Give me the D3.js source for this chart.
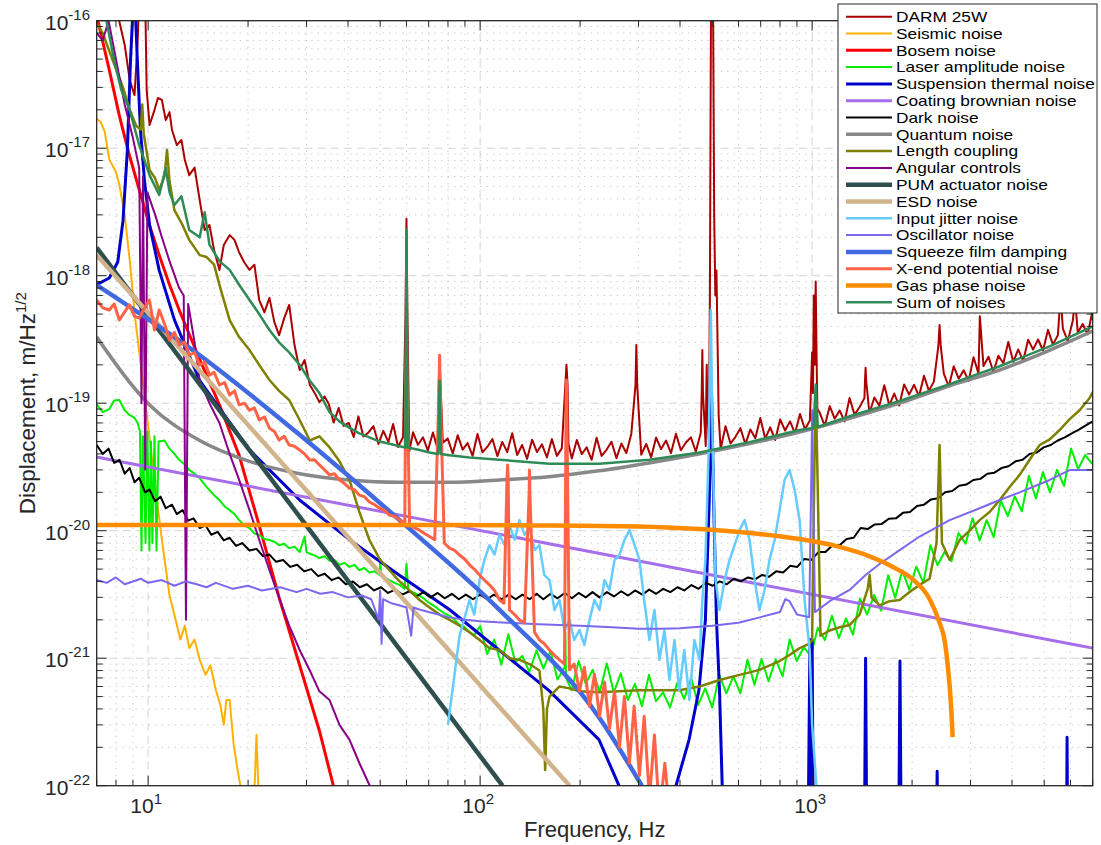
<!DOCTYPE html>
<html><head><meta charset="utf-8">
<script src="https://cdn.jsdelivr.net/npm/d3@7"></script>
<style>body{margin:0;background:#fff}svg{display:block}text{font-family:"Liberation Sans",Arial,Helvetica,sans-serif}</style>
</head><body><svg id="c" width="1101" height="845"></svg>
<script>
// All amplitude values below are in units of 1e-21 m/Hz^1/2 ; frequencies in Hz
const U = 1e-21;
const xDomain = [7, 7000];
const yDomain = [1e-22, 1e-16];
const xMajor = [10, 100, 1000];
const yMajor = [1e-22, 1e-21, 1e-20, 1e-19, 1e-18, 1e-17, 1e-16];
const xTickLabels = [["10","1"],["10","2"],["10","3"]];
const yTickLabels = [["10","-22"],["10","-21"],["10","-20"],["10","-19"],["10","-18"],["10","-17"],["10","-16"]];

const darm = [[8.05,120000],[8.5,64500],[8.8,34300],[9.1,26100],[9.3,70600],[9.4,150000],[9.8,150000],[9.9,28600],[10.1,15200],[10.45,19900],[10.7,24800],[11,23900],[11.3,16600],[11.6,19200],[11.8,13900],[12.2,10600],[12.6,11600],[12.9,8080],[13.3,6150],[13.8,7040],[14.3,3920],[14.8,2280],[15.3,2500],[15.8,1590],[16.4,1110],[16.9,1740],[17.6,2080],[18.2,1910],[18.8,1520],[19.5,1270],[20.2,1110],[20.9,1220],[21.6,645],[22.4,515],[23.2,670],[24,432],[24.8,342],[25.7,465],[26.6,590],[27.6,286],[28.6,182],[29.6,218],[30.7,139],[31.7,121],[32.8,102],[34,113],
[35,98.6],[36.2,70.5],[37.5,91.7],[38.8,66.3],[40.2,70],[41.6,54.3],[43,78.6],[44.5,54.8],[46.1,59],[47.7,66.2],[49.4,47.9],[51.1,60.7],[52.9,49.7],[54.7,68.6],[56.6,45.4],[58.6,54.3],[59.6,500],[60,2800],[60.4,500],[61.2,41.9],[62.8,59.1],[65,47.2],[67.3,54.1],[69.6,42.5],[72.1,59],[74.6,43.2],[75.1,150],[75.5,230],[75.9,150],[77.2,48.9],[79.9,52.8],[82.7,40.3],[85.6,56],[88.6,43.2],[91.7,48.6],[94.9,38.7],[98.2,57.4],[101.6,41.2],[105.2,45.6],[108.9,52.3],[112.7,38.5],[116.6,49.7],[120.7,41.4],[124.9,58.2],[129.3,39.2],[133.8,47],[138.5,36.6],[143.4,51.7],[148.4,41.4],[153.6,47.6],[158.9,37.5],[164.5,52.3],[170.3,38.6],[176.2,44.2],[180.6,140],[182,200],[183.4,140],[184.5,48],[188.9,36.9],[195.5,51.5],[202.3,39.9],[209.4,45],[216.7,36],[224.3,53.6],[232.2,38.6],[240.3,43.1],[248.7,49.9],[257.4,37.1],[266.4,48.3],[275.7,40.6],[285.4,57.7],[293.8,140],[295.5,286],[297.2,140],[305.7,39.5],[316.4,47.9],[327.5,37.6],[338.9,53.8],[350.8,43.7],[363.1,50.9],[375.8,40.6],[388.9,57.5],[402.5,42.8],[416.6,49.2],[431.2,54],[446.3,41.8],[461.9,58.4],[465,120],[467,261],[469,120],[478.1,46.1],[480,120],[481.5,200],[483,100],[488,52.5],[492,600],[496,150000],[503,150000],[507,3000],[511,700],[515,1100],[519,300],[523,80],[530.1,43.7],[548.6,66],[567.8,48.3],[587.7,54.5],[608.3,63.7],[629.6,47.7],[651.6,62.3],[674.4,53.2],[698,76.6],[722.4,52.7],[747.7,64.7],[773.9,51.5],[801,74.6],[829,61.1],[858,72],[888,57.9],[919.1,82.4],[951.3,62.5],[984.6,73.3],[1000,250],[1006,120],[1012,700],[1018,200],[1025,900],[1031,250],[1037,90],[1054.7,84.1],[1091.6,66.3],[1129.8,94.9],[1169.4,75.6],[1210.3,87.6],[1252.7,72],[1296.5,110],[1341.9,81.4],[1388.9,92.9],[1437.5,109.7],[1443,150],[1449,190],[1455,150],[1487.8,83.4],[1539.9,110.9],[1593.8,95.3],[1649.6,138.5],[1707.3,96.3],[1767.1,119.1],[1828.9,95.9],[1892.9,140.4],[1959.2,116.7],[2027.8,139.3],[2098.7,113.6],[2172.2,164.3],[2248.2,125],[2326.9,147.6],[2400,280],[2420,410],[2440,280],[2492.6,170.7],[2579.9,135.2],[2670.2,194.8],[2763.6,155.7],[2860.3,181.2],[2960.4,149.6],[3064,229.6],[3171.3,170.5],[3200,480],[3282.3,195.4],[3397.2,231.7],[3516.1,176.6],[3639.1,235.7],[3766.5,206],[3898.3,301.6],[4034.8,211.2],[4176,264],[4322.2,214],[4473.4,315],[4630,263],[4792.1,316],[4959.8,259],[5133.4,376],[5313.1,288],[5499,342],[5600,700],[5691.5,385],[5890.7,307],[6096.9,444],[6200,650],[6310.3,357],[6531.1,418],[6759.7,347],[6996.3,535],[7000,450]];

const seismic = [[7,17000],[7.2,16000],[7.4,13500],[7.6,8800],[7.65,8100],[8,6500],[8.2,5100],[8.5,3000],[8.8,1330],[9.15,450],[9.55,180],[9.95,74],[10.45,25],[11,8.5],[11.6,3.1],[12.1,2.0],[12.5,1.4],[12.9,1.8],[13.3,1.2],[13.8,1.4],[14.3,0.97],[14.9,0.74],[15.4,0.88],[16,0.56],[16.5,0.43],[16.9,0.3],[17.2,0.47],[17.6,0.47],[18.1,0.21],[18.6,0.133],[19.1,0.09],[20.9,0.09],[21.2,0.25],[21.5,0.09]];

const bosem = [[7,110000],[7.64,41000],[8.19,18000],[8.78,8800],[9.41,4700],[10.09,2500],[10.8,1450],[11.6,850],[12.4,540],[14.3,220],[16.4,97],[18.8,39],[21.6,11],[24.8,3.0],[28.6,0.88],[32.8,0.27],[36.4,0.093]];

const laser = [[7,98],[7.3,85],[7.64,90],[7.9,105],[8.19,106],[8.5,88],[8.78,81],[9.1,77],[9.3,70],[9.45,60],[9.55,7],[9.65,55],[9.82,8],[9.95,60],[10.09,7],[10.2,50],[10.3,8],[10.45,55],[10.6,7],[10.75,50],[11.2,51],[11.6,44],[12,40],[12.4,36],[12.9,33],[13.3,30],[13.8,28],[14.3,25.8],[14.8,23],[15.3,20.8],[15.8,19],[16.4,17.4],[17,15.5],[17.6,14.5],[18.2,13.5],[18.8,12.1],[19.5,11],[20.2,10.5],[20.9,9.5],[21.6,9.3],[22.4,8.6],[23.2,8.45],[24,8.2],[24.8,7.7],[25.7,7.9],[26.6,7.3],[27.6,7.5],[28.6,6.8],[29.6,9],[30,6.8],[30.7,6.6],[31.7,6.4],[32.8,6.1],[34,6.3],[35.2,5.8],[36.4,5.9],[37.7,5.4],[39,5.6],[40.4,5.2],[41.8,5.4],[43.3,4.9],[44.8,5.1],[46.4,4.7],[48.1,4.8],[49.8,4.5],[50,6],[50.3,4.4],[51.5,4.3],[53.3,4.1],[55.2,3.9],[57.2,3.76],[59.2,3.5],[60,5.5],[60.8,3.4],[63.5,3.25],[65.7,3.1],[68,2.9],[70.4,2.7],[73,2.55],[75.5,2.39],[78,2.25],[80.9,2.15],[83.8,2.0],[86.7,1.82],[89.8,1.75],[92.9,1.6],[96,1.52],
[100,1.79],[105,1.08],[110.3,1.4],[115.8,0.89],[121.6,1.54],[127.6,0.93],[134,1.04],[140.7,0.78],[147.8,1.15],[155.1,0.83],[162.9,1.14],[171,0.68],[179.6,0.85],[180.5,1.6],[181.5,0.7],[188.6,0.56],[198,0.95],[207.9,0.63],[218.3,0.81],[229.2,0.54],[240.7,0.91],[252.7,0.54],[265.3,0.76],[278.6,0.47],[292.5,0.63],[307.2,0.42],[322.5,0.74],[338.6,0.46],[355.6,0.54],[373.3,0.41],[392,0.64],[411.6,0.48],[432.2,0.7],[453.8,0.43],[476.5,0.58],[500.3,0.41],[525.3,0.74],[551.6,0.53],[579.2,0.72],[608.1,0.53],[638.5,0.97],[670.5,0.62],[704,0.98],[739.2,0.66],[776.2,0.98],[815,0.72],[855.7,1.4],[898.5,0.95],[943.4,1.22],[990.6,1.04],[1040,1.73],[1092,1.39],[1147,2.15],[1204,1.44],[1264,2.05],[1328,1.53],[1394,2.94],[1464,2.2],[1537,3.13],[1614,2.36],[1695,4.48],[1779,2.98],[1868,4.88],[1962,3.44],[2060,5.23],[2163,3.9],[2271,7.7],[2385,5.36],[2504,6.8],[2629,5.77],[2760,9.6],[2898,7.92],[3043,12.5],[3196,8.4],[3355,12.1],[3523,8.9],[3699,17.3],[3884,13],[4078,18.6],[4282,14.2],[4496,27],[4721,17.9],[4957,28.8],[5205,20],[5465,30],[5739,22.5],[6025,44.1],[6327,30.4],[6643,39.2],[6975,33.5]];

const suspTherm = [[7,850],[7.64,960],[8.1,1280],[8.4,2700],[8.66,9700],[8.85,49000],[9.0,120000],[9.15,120000],[9.28,49000],[9.48,14000],[9.75,5600],[10.1,2500],[10.8,1100],[12,450],[14.3,150],[20.2,43],[28.6,17.4],[40.4,8.5],[57,4.5],[81,2.4],[114,1.16],[161,0.56],[228,0.23],[262,0.1],[330,0.02],[389,0.1],[426,0.23],[456,0.56],[477,2.0],[490,17.4],[498,115],[505,17.4],[515,2.0],[526,0.56],[536,0.1],[560,0.02],[970,0.02],[985,1.4],[992,0.02],[1000,1.4],[1010,0.02],[1435,0.02],[1449,1.0],[1463,0.02],[1820,0.02],[1839,0.95],[1858,0.02],[2360,0.02],[2380,0.13],[2400,0.02],[5830,0.02],[5860,0.24],[5890,0.02]];

const coating = [[7,37.8],[70,12],[700,3.78],[7000,1.2]];

const dark = [[7,47],[7.3,40],[7.6,44],[7.9,34],[8.2,36],[8.5,28],[8.8,31],[9.1,24],[9.4,26],[9.8,20],[10.1,21],[10.5,17],[10.9,18.5],[11.3,15],[11.8,16],[12.2,13.5],[12.7,14.5],[13.2,12],[13.7,12.5],[14.3,10.5],[14.9,11],[15.5,9.3],[16.2,9.8],[16.9,8.4],[17.6,8.8],[18.4,7.6],[19.2,8],[20.2,7],[21.2,7.2],[22.2,6.3],[23.2,6.5],[24.3,5.7],[25.5,5.9],[26.8,5.2],[28.1,5.4],[29.5,4.8],[31,5],[32.5,4.4],[34,4.6],[35.7,4.1],[37.5,4.3],[39.4,3.8],[41.4,4],[43.4,3.6],[45.6,3.8],[47.9,3.4],[50.3,3.6],[52.8,3.25],[55.5,3.45],[58.3,3.15],[61.2,3.35],[64.3,3.05],[67.5,3.3],[70.9,3.0],[74.5,3.25],[78.2,2.95],[82.2,3.2],[86.3,2.9],[90.6,3.15],[95.2,2.9],[100,3.15],[105,2.9],[110,3.15],[116,2.9],[122,3.15],[128,2.9],[134,3.15],[141,2.9],[148,3.2],[155,2.9],[163,3.2],[171,2.95],[180,3.25],[189,2.95],[198,3.25],[208,3.0],[218,3.3],[229,3.0],[241,3.3],[253,3.05],[266,3.35],[279,3.1],[293,3.4],[308,3.15],[323,3.45],[339,3.2],[356,3.5],[374,3.3],[393,3.6],[412,3.4],[433,3.75],[455,3.5],[478,3.9],[502,3.7],[527,4.0],[553,3.8],[581,4.2],[610,4.0],[641,4.3],[673,4.15],[707,4.5],[742,4.35],[779,4.8],[818,4.7],[859,5.3],[902,5.2],[947,6.0],[995,5.9],[1045,6.8],[1097,6.8],[1152,7.7],[1210,7.7],[1270,8.6],[1334,8.8],[1400,10.5],[1470,10.3],[1544,11.2],[1621,11.3],[1702,12.4],[1788,12.5],[1877,13.8],[1971,14.0],[2070,15.6],[2173,16],[2282,17.6],[2396,18],[2516,20],[2642,20.5],[2774,22.5],[2913,23],[3059,25],[3212,25.5],[3372,28],[3541,28.5],[3718,31],[3904,32],[4099,35],[4304,36],[4519,40],[4745,41],[4982,45],[5231,47],[5493,51],[5768,54],[6056,58],[6359,62],[6677,67],[7000,72]];

const quantum = [[7,330],[10.1,97],[14.3,51],[20.2,35],[28.6,28],[40.4,25],[57,24],[81,24],[114,25],[161,26.5],[228,29.5],[322,34],[456,40],[644,48],[910,59],[1297,76],[1834,100],[2594,137],[3667,182],[5185,260],[7000,368]];

const lengthCoup = [[7,95000],[7.3,80000],[7.6,60000],[8,42000],[8.4,30000],[8.8,20000],[9.2,15000],[9.5,14000],[9.6,22000],[9.7,13000],[10.1,6740],[10.5,5800],[10.8,4700],[11.2,6000],[11.4,9680],[11.6,5500],[12,3270],[12.6,2600],[13.3,1910],[14.3,1450],[15,1400],[15.8,1220],[16.5,800],[17.6,449],[18.8,330],[20.2,261],[21.6,200],[23.2,152],[24.8,125],[26.6,106],[28.6,73.8],[30.7,51],[32.8,55],[35.2,45],[37.7,35],[40.4,25],[43.3,14],[46.4,8.45],[49.8,6],[53.3,4.9],[57.2,4],[61.3,3.4],[65.7,2.86],[70.4,2.5],[75.5,2.2],[80.9,2.0],[86.7,1.8],[92.9,1.6],[99.6,1.39],[106.7,1.2],[114.4,1.16],[122.6,1.0],[131.4,0.97],[140.8,0.9],[150.9,0.8],[155,0.4],[157,0.133],[159,0.4],[161.8,0.5],[173.4,0.6],[185.8,0.58],[199.2,0.55],[228.8,0.54],[262.8,0.55],[301.9,0.56],[346.8,0.56],[398,0.56],[458,0.6],[526,0.675],[605,0.74],[694,0.81],[798,0.95],[855,1.06],[917,1.2],[983,1.3],[1000,1.39],[1017,40],[1025,118],[1035,40],[1060,1.5],[1129,1.65],[1210,1.75],[1297,1.82],[1390,2.2],[1470,3.5],[1490,4.5],[1510,3],[1597,2.6],[1711,2.8],[1835,2.86],[1966,3.3],[2107,3.76],[2258,4.2],[2370,8],[2420,47],[2460,8],[2596,5.9],[2782,8.45],[2981,10],[3195,12.1],[3425,14],[3672,17.4],[3935,22],[4218,27.4],[4520,36],[4846,47],[5195,52],[5567,61.6],[5967,75],[6394,88],[6854,110],[7000,122]];

const angular = [[7,80000],[7.3,70000],[7.6,100000],[8,50000],[8.5,22000],[9,12000],[9.4,7000],[9.55,100],[9.65,6000],[9.8,30],[9.95,4500],[10.5,3000],[11,2000],[11.6,1300],[12.4,800],[12.8,700],[13.0,2.0],[13.2,600],[13.8,300],[14.3,150],[15.3,100],[16.4,70],[17.6,40],[18.8,25],[20.2,14.5],[21.6,8.5],[23.2,4.9],[25,2.8],[26.6,1.8],[28.6,1.16],[30.7,0.8],[32.8,0.55],[35.2,0.47],[37.7,0.3],[40.4,0.23],[43.3,0.15],[46.5,0.1],[50,0.06]];

const pum = [[7,1660],[116.8,0.1]];
const esd = [[7,1450],[186,0.1]];

const jitter = [[80,0.3],[86.7,1.5],[92.9,2.86],[96,2.2],[99.6,4.1],[103,5.9],[106.7,7.7],[110.5,6.5],[114.4,9.3],[118.5,7.7],[122.6,11],[127,8.5],[131.4,12.1],[136,9.3],[140.8,10.5],[146,7.05],[150.9,7.7],[156,4.5],[161.8,4.1],[167.5,2.39],[173.4,2.86],[179.5,1.66],[185.8,1.99],[192,1.39],[199.2,1.66],[206,1.27],[213.5,1.99],[221,2.86],[228.8,2.39],[237,4.1],[245.2,3.43],[254,5.9],[262.8,6.45],[272,8.45],[281.7,10.1],[292,7.7],[301.9,5.9],[312,2.86],[323.6,1.39],[335,2.39],[346.8,0.97],[359,1.66],[371.7,0.675],[385,1.39],[398,0.56],[412,1.16],[427,0.47],[442,1.39],[458,0.97],[467,2.86],[477,5.9],[488,42.9],[495,538],[502,42.9],[512,4.1],[526,2.39],[545,4.1],[564,5.9],[584,7.7],[605,10.1],[626,12.1],[648,8.45],[671,4.1],[694,2.39],[719,3.43],[744,5.9],[771,8.45],[798,14.5],[826,25],[855,29.9],[886,20.8],[917,12.1],[949,2.86],[983,1.16],[1000,0.3],[1050,0.05]];

const oscillator = [[7,4.1],[7.5,3.9],[8,4.3],[8.5,3.8],[9,4.0],[9.5,4.2],[10,3.9],[11,4.1],[12,3.7],[13,4.0],[14,3.8],[15,3.6],[16,3.9],[18,3.5],[20,3.7],[22,3.4],[25,3.6],[28,3.3],[30,3.5],[33,3.2],[36,3.3],[40,3.0],[44,3.1],[47,2.9],[49.5,2.0],[50,3.4],[50.5,1.3],[51,2.9],[54,2.7],[57,2.6],[60,2.5],[62,1.5],[63,2.5],[66,2.4],[70,2.3],[75,2.2],[80,2.1],[90,2.0],[100,1.95],[120,1.9],[150,1.85],[200,1.8],[250,1.75],[300,1.7],[350,1.7],[400,1.72],[500,1.8],[600,1.9],[700,2.1],[800,2.3],[830,2.9],[855,2.8],[900,2.2],[980,2.1],[995,30],[1000,88],[1005,30],[1020,2.3],[1129,2.8],[1297,3.43],[1449,4.5],[1600,5.5],[1835,7.05],[2107,9],[2596,12.1],[3195,15],[3672,17.4],[4218,20],[5195,25],[5967,29.9],[6400,29.9],[7000,29.9]];

const squeeze = [[7,845],[14.3,238],[28.6,56.5],[57.2,12.1],[114.4,2.39],[228.8,0.34],[307,0.1]];

const xend = [[7,645],[7.3,560],[7.64,538],[7.9,600],[8.19,449],[8.5,520],[8.78,590],[9.1,480],[9.41,466],[9.75,560],[10.09,645],[10.45,375],[10.8,538],[11.2,420],[11.6,313],[12,360],[12.4,286],[12.9,300],[13.3,238],[13.8,250],[14.3,199],[14.8,210],[15.3,166],[15.8,175],[16.4,139],[17,145],[17.6,116],[18.2,125],[18.8,97],[19.5,100],[20.2,88],[20.9,92],[21.6,74],[22.4,78],[23.2,63.6],[24,60],[24.8,51.4],[25.7,55],[26.6,47],[27.6,46],[28.6,42.9],[29.6,40],[30.7,35.9],[31.7,36],[32.8,32.8],[34,30],[35.2,27.4],[36.4,28],[37.7,25],[39,23.5],[40.4,21.6],[41.8,21],[43.3,19],[44.8,18.5],[46.4,16.8],[48.1,16],[49.8,15],[51.5,14.5],[53.3,13.2],[55.2,13],[57.2,12.1],[59.3,11.5],[59.7,150],[60,375],[60.3,150],[61.3,11],[63.5,10.5],[65.7,10.1],[68,9.5],[70.4,9],[73,8.5],[75,100],[75.5,238],[76,100],[78,8],[80.9,7.3],[83.8,7.0],[86.7,6.45],[89.8,6],[92.9,5.4],[96,5.0],[99.6,4.5],[103,4.1],[106.7,3.76],[110.5,3.4],[114.4,2.86],[118,2.7],[120.5,25],[121,32.8],[121.5,25],[122.6,2.39],[127,2.2],[131.4,1.99],[136,1.9],[140.5,20],[140.8,29.9],[141.2,20],[145.8,1.6],[150.9,1.39],[156,1.3],[161.8,1.16],[167.5,1.05],[173.4,0.97],[179.5,0.9],[181.5,100],[182,152],[182.5,100],[185.8,0.81],[192,0.9],[199.2,0.55],[206,0.85],[213.5,0.42],[221,0.75],[228.8,0.35],[237,0.65],[245.2,0.28],[254,0.55],[262.8,0.2],[272,0.5],[281.7,0.15],[291,0.42],[301.9,0.12],[312,0.35],[323.6,0.08],[335,0.25],[346.8,0.06],[360,0.15],[375,0.05]];

const gas = [[7,11.1],[50,11.1],[150,11],[300,10.8],[458,10.3],[650,9.6],[917,8.6],[1200,7.5],[1490,6.3],[1800,5.0],[2000,4.2],[2260,2.9],[2420,1.9],[2510,1.35],[2570,0.8],[2610,0.5],[2640,0.3],[2650,0.24]];

const sumNoise = [[7,200000],[7.5,98000],[7.9,49000],[8.3,28600],[8.8,19900],[9.4,10600],[10.1,6150],[10.8,4300],[11.3,7000],[11.6,4500],[12,3580],[12.6,4200],[13.3,2280],[14.3,2000],[14.8,3150],[15.3,1750],[16.4,1300],[17.6,1110],[18.8,850],[20.2,645],[21.6,500],[23.2,375],[24.8,300],[26.6,250],[28.6,200],[30.7,150],[32.8,120],[35.2,85],[37.7,72],[40.4,64],[43.3,58],[46.4,54],[49.8,50],[53.3,48],[57.2,46],[59.5,45],[60,2300],[60.5,45],[65.7,43],[70.4,41],[74.8,40],[75.5,150],[76.2,40],[80.9,39],[92.9,37.5],[114.4,36],[161.8,33.5],[228.8,33.5],[323.6,36],[458,41],[648,49.5],[917,61.6],[1010,64],[1025,140],[1040,65],[1297,79],[1835,104],[2596,141],[3672,195],[5195,279],[7000,400]];

const names = ["DARM 25W","Seismic noise","Bosem noise","Laser amplitude noise","Suspension thermal noise","Coating brownian noise","Dark noise","Quantum noise","Length coupling","Angular controls","PUM actuator noise","ESD noise","Input jitter noise","Oscillator noise","Squeeze film damping","X-end potential noise","Gas phase noise","Sum of noises"];
const series = [darm,seismic,bosem,laser,suspTherm,coating,dark,quantum,lengthCoup,angular,pum,esd,jitter,oscillator,squeeze,xend,gas,sumNoise];
const smooth = [false,false,false,false,false,true,false,true,false,false,true,true,false,false,true,false,true,false];
const colors = ["#aa0000","#ffb000","#ff0000","#00ee00","#0000cc","#a66eeb","#000000","#888888","#808000","#880088","#2f4f4f","#d2b48c","#66ccff","#7b68ee","#4169e1","#ff6347","#ff8c00","#2e8b57"];
const widths = [2,2,3,2,3,3,2,3.5,2.5,2,4.5,4.5,2.5,2,4.5,3,4.5,2.5];

const svg = d3.select("#c");
const L = 96.7, R = 1092.7, T = 20.7, B = 785.7;
const x = d3.scaleLog().domain(xDomain).range([L, R]);
const y = d3.scaleLog().domain(yDomain).range([B, T]);
const axisColor = "#262626";

// grid
const g = svg.append("g");
const xt = x.ticks(), yt = y.ticks();
const isMajor = v => Math.abs(Math.log10(v) - Math.round(Math.log10(v))) < 1e-6;
xt.forEach(v => { if (v <= xDomain[0] || v >= xDomain[1]) return;
  g.append("line").attr("x1", x(v)).attr("x2", x(v)).attr("y1", T).attr("y2", B)
   .attr("stroke", isMajor(v) ? "#d4d4d4" : "#c4c4c4").attr("stroke-width", 1)
   .attr("stroke-dasharray", isMajor(v) ? "8,5" : "1.2,5.3"); });
yt.forEach(v => { if (v <= yDomain[0]*1.0001 || v >= yDomain[1]*0.9999) return;
  g.append("line").attr("y1", y(v)).attr("y2", y(v)).attr("x1", L).attr("x2", R)
   .attr("stroke", isMajor(v) ? "#d4d4d4" : "#c4c4c4").attr("stroke-width", 1)
   .attr("stroke-dasharray", isMajor(v) ? "8,5" : "1.2,5.3"); });

// clip + lines
svg.append("clipPath").attr("id", "clip").append("rect").attr("x", L).attr("y", T).attr("width", R - L).attr("height", B - T);
const plot = svg.append("g").attr("clip-path", "url(#clip)");
series.forEach((s, i) => {
  const line = d3.line().x(d => x(d[0])).y(d => y(d[1] * U)).curve(smooth[i] ? d3.curveMonotoneX : d3.curveLinear);
  plot.append("path").datum(s).attr("d", line).attr("fill", "none")
    .attr("stroke", colors[i]).attr("stroke-width", widths[i]).attr("stroke-linejoin", "round");
});

// axes box + ticks
const ax = svg.append("g").attr("stroke", axisColor);
ax.append("rect").attr("x", L).attr("y", T).attr("width", R - L).attr("height", B - T).attr("fill", "none").attr("stroke-width", 1.3);
xt.forEach(v => { const len = isMajor(v) ? 10 : 6, px = x(v);
  ax.append("line").attr("x1", px).attr("x2", px).attr("y1", B).attr("y2", B - len);
  ax.append("line").attr("x1", px).attr("x2", px).attr("y1", T).attr("y2", T + len); });
yt.forEach(v => { const len = isMajor(v) ? 10 : 6, py = y(v);
  ax.append("line").attr("x1", L).attr("x2", L + len).attr("y1", py).attr("y2", py);
  ax.append("line").attr("x1", R).attr("x2", R - len).attr("y1", py).attr("y2", py); });

// tick labels
xMajor.forEach((v, i) => {
  const t = svg.append("text").attr("x", x(v) - 2).attr("y", 813).attr("text-anchor", "middle").attr("fill", axisColor).attr("font-size", 21);
  t.append("tspan").text(xTickLabels[i][0]);
  t.append("tspan").attr("dy", -9).attr("font-size", 15).text(xTickLabels[i][1]);
});
yMajor.forEach((v, i) => {
  const t = svg.append("text").attr("x", 90).attr("y", y(v) + 9).attr("text-anchor", "end").attr("fill", axisColor).attr("font-size", 21);
  t.append("tspan").text(yTickLabels[i][0]);
  t.append("tspan").attr("dy", -10).attr("font-size", 15).text(yTickLabels[i][1]);
});
svg.append("text").attr("x", (L + R) / 2).attr("y", 836.5).attr("text-anchor", "middle").attr("fill", axisColor).attr("font-size", 22).text("Frequency, Hz");
const yl = svg.append("text").attr("transform", `translate(35,${(T + B) / 2}) rotate(-90)`).attr("text-anchor", "middle").attr("fill", axisColor).attr("font-size", 22.5);
yl.append("tspan").text("Displacement, m/Hz");
yl.append("tspan").attr("dy", -9).attr("font-size", 15).text("1/2");

// legend (row pitch is tight, so text uses a smaller em box stretched to the reference width)
const lg = svg.append("g");
lg.append("rect").attr("x", 838).attr("y", 4).attr("width", 259).attr("height", 309).attr("fill", "#fff").attr("stroke", axisColor).attr("stroke-width", 1);
names.forEach((n, i) => {
  const cy = 16.7 + i * 16.8;
  lg.append("line").attr("x1", 846).attr("x2", 892).attr("y1", cy).attr("y2", cy).attr("stroke", colors[i]).attr("stroke-width", widths[i]);
  const t = lg.append("text").attr("x", 896).attr("y", cy + 5.3).attr("font-size", 17.3).attr("fill", "#000").text(n);
  const w = t.node().getComputedTextLength();
  t.attr("font-size", 14.4).attr("textLength", w).attr("lengthAdjust", "spacingAndGlyphs");
});
</script></body></html>
